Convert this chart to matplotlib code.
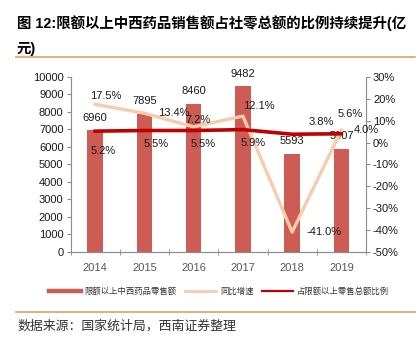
import matplotlib
matplotlib.use("Agg")
import matplotlib.pyplot as plt
from matplotlib.lines import Line2D
import numpy as np

years = ["2014", "2015", "2016", "2017", "2018", "2019"]
sales = [6960, 7895, 8460, 9482, 5593, 5907]
growth = [17.5, 13.4, 7.2, 12.1, -41.0, 5.6]
ratio = [5.2, 5.5, 5.5, 5.9, 3.8, 4.0]
left_ticks = [0, 1000, 2000, 3000, 4000, 5000, 6000, 7000, 8000, 9000, 10000]
right_ticks = [-50, -40, -30, -20, -10, 0, 10, 20, 30]
legend_labels = ["限额以上中西药品零售额", "同比增速", "占限额以上零售总额比例"]
title1 = "图 12:限额以上中西药品销售额占社零总额的比例持续提升(亿"
title2 = "元)"
source = "数据来源：国家统计局，西南证券整理"

plt.rcParams['font.family'] = ['Liberation Sans', 'Noto Sans CJK SC', 'DejaVu Sans']

W, H = 419, 341
fig = plt.figure(figsize=(W / 100, H / 100), dpi=100)
ax = fig.add_axes([70.5 / W, 1 - 251.7 / H, (366 - 70.5) / W, (251.7 - 77) / H])
ax2 = ax.twinx()

bar_c = "#CD5C55"
grow_c = "#F8CBAD"
ratio_c = "#C00000"
spine_c = "#8C8C8C"
txt_c = "#1A1A1A"

x = np.arange(len(years))
ax.bar(x, sales, width=0.31, color=bar_c, zorder=1)
ax.set_xlim(-0.5, len(years) - 0.5)
ax.set_ylim(0, 10000)
ax.set_yticks(left_ticks)
ax.set_xticks(x)
ax.set_xticklabels(years)
ax.set_xticks(np.arange(-0.5, len(years)), minor=True)
ax.tick_params(axis='x', which='major', length=0, colors="#595959", labelsize=8, pad=8)
ax.tick_params(axis='x', which='minor', length=5, direction='inout', color=spine_c)
ax.tick_params(axis='y', length=3, color=spine_c, labelcolor=txt_c, labelsize=8, pad=2)

ax2.set_ylim(-50, 30)
ax2.set_yticks(right_ticks)
ax2.set_yticklabels([f"{v}%" for v in right_ticks])
ax2.tick_params(axis='y', length=3, color=spine_c, labelcolor=txt_c, labelsize=8, pad=2)

for a in (ax, ax2):
    a.spines['top'].set_visible(False)
    for s in ('left', 'right', 'bottom'):
        a.spines[s].set_color(spine_c)
        a.spines[s].set_linewidth(0.8)
ax2.spines['left'].set_visible(False)
ax.spines['right'].set_visible(False)

ax2.plot(x, growth, color=grow_c, lw=2.4, zorder=3)
ax2.plot(x, ratio, color=ratio_c, lw=2.6, zorder=4)
ax2.set_zorder(2)
ax.set_zorder(1)
ax2.patch.set_visible(False)

px = 0.72
fs = 8
for i, v in enumerate(sales):
    ax.annotate(f"{v}", (x[i], v), xytext=(0, 12.5 * px), textcoords='offset points',
                ha='center', va='center', fontsize=fs, color=txt_c, zorder=5)

g_off = [(11, -8), (29, 0), (4, -7), (16, -10), (32, 0), (9, -16)]
r_off = [(8, 20), (12, 13), (10, 13), (10, 13), (29, -12), (25, -4)]
for i in range(len(years)):
    dx, dy = g_off[i]
    ax2.annotate(f"{growth[i]:.1f}%", (x[i], growth[i]), xytext=(dx * px, -dy * px),
                 textcoords='offset points', ha='center', va='center', fontsize=fs,
                 color=txt_c, zorder=6)
    dx, dy = r_off[i]
    ax2.annotate(f"{ratio[i]:.1f}%", (x[i], ratio[i]), xytext=(dx * px, -dy * px),
                 textcoords='offset points', ha='center', va='center', fontsize=fs,
                 color=txt_c, zorder=6)

handles = [Line2D([0], [0], color=bar_c, lw=3.2),
           Line2D([0], [0], color=grow_c, lw=2.0),
           Line2D([0], [0], color=ratio_c, lw=1.6)]
fig.legend(handles, legend_labels, loc='center', bbox_to_anchor=(219 / W, 1 - 292 / H),
           ncol=3, frameon=False, fontsize=6, handlelength=3.8, handletextpad=0.4,
           columnspacing=1.0, labelcolor="#333333")

line_c = "#DDA15E"
fig.add_artist(Line2D([16 / W, 415 / W], [1 - 57 / H, 1 - 57 / H], color=line_c, lw=1.2))
fig.add_artist(Line2D([16 / W, 415 / W], [1 - 312 / H, 1 - 312 / H], color=line_c, lw=1.2))

fig.text(17 / W, 1 - 23 / H, title1, fontsize=10.4, fontweight='bold', ha='left', va='center',
         color="#000000")
fig.text(17 / W, 1 - 49 / H, title2, fontsize=10.4, fontweight='bold', ha='left', va='center',
         color="#000000")
fig.text(17 / W, 1 - 326 / H, source, fontsize=9.3, style='italic', ha='left', va='center',
         color="#333333")

fig.savefig("out.png", dpi=100)
